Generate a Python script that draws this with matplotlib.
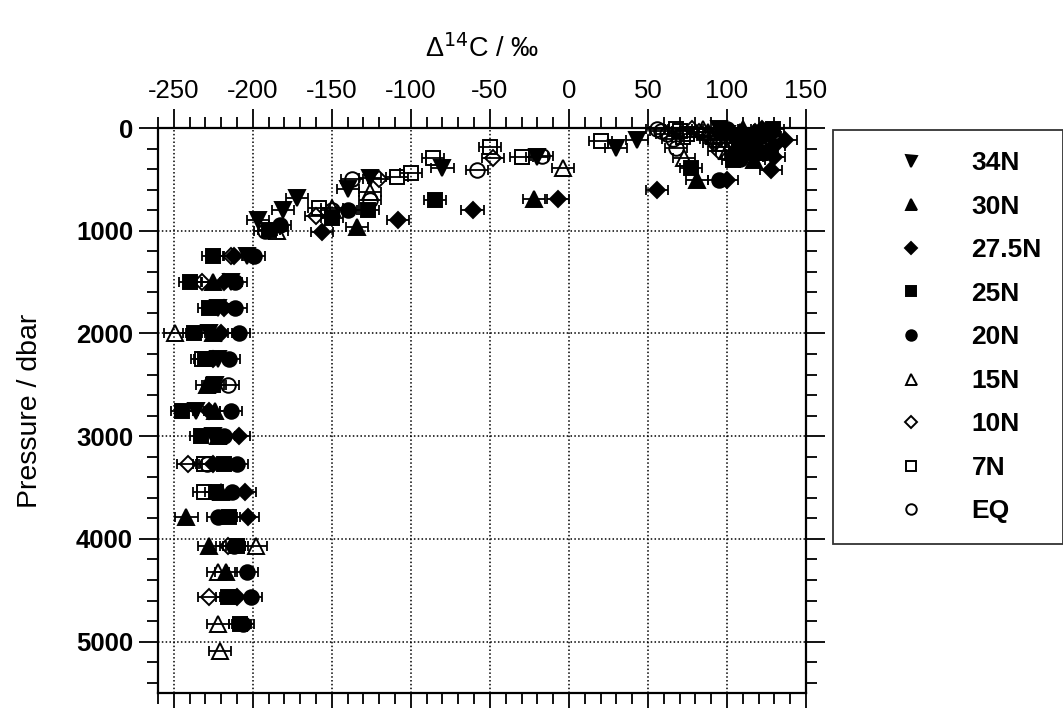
import numpy as np
import matplotlib
matplotlib.use("Agg")
import matplotlib.pyplot as plt
from matplotlib.ticker import MultipleLocator

plt.rcParams['font.family'] = ['Liberation Sans', 'DejaVu Sans']
plt.rcParams['axes.unicode_minus'] = False

# Delta 14C (permil) against pressure (dbar) for each station
p_34n = [10, 60, 117, 197, 280, 393, 490, 590, 685, 800, 898, 1250, 1500, 1750, 2000, 2250, 2500, 2750, 3000]
d_34n = [95, 100, 43, 30, -20, -80, -126, -140, -172, -181, -197, -204, -214, -222, -228, -222, -224, -236, -225]

p_30n = [10, 40, 75, 110, 150, 190, 230, 313, 508, 695, 965, 1500, 2000, 2500, 2750, 3000, 3540, 3790, 4070, 4320]
d_30n = [110, 108, 115, 112, 118, 119, 120, 117, 81, -22, -134, -225, -225, -229, -224, -222, -220, -242, -228, -217]

p_275n = [10, 40, 75, 120, 180, 230, 280, 410, 508, 605, 695, 800, 898, 1013, 1250, 1500, 1750, 2000, 2250, 2750,
          3000, 3275, 3540, 3790, 4570]
d_275n = [122, 118, 127, 137, 130, 125, 130, 128, 100, 56, -7, -61, -108, -156, -212, -218, -218, -220, -225, -228,
          -209, -225, -205, -203, -210]

p_25n = [10, 40, 75, 110, 150, 190, 230, 270, 313, 393, 703, 800, 880, 990, 1250, 1500, 1750, 2000, 2250, 2500,
         2750, 3000, 3275, 3540, 3790, 4070, 4570, 4830]
d_25n = [129, 126, 120, 118, 112, 110, 108, 106, 104, 77, -85, -127, -150, -190, -225, -240, -228, -237, -230, -225,
         -245, -233, -218, -223, -215, -210, -216, -208]

p_20n = [10, 40, 75, 110, 150, 190, 230, 300, 508, 800, 940, 1250, 1500, 1750, 2000, 2250, 2750, 3000, 3275, 3540,
         3790, 4070, 4320, 4570, 4830]
d_20n = [100, 98, 105, 107, 110, 112, 112, 108, 95, -140, -183, -199, -211, -211, -209, -215, -214, -218, -210, -213,
         -222, -212, -204, -201, -206]

p_15n = [10, 40, 75, 110, 150, 220, 295, 393, 620, 780, 1000, 2000, 4070, 4320, 4830, 5090]
d_15n = [85, 88, 92, 95, 98, 100, 73, -4, -126, -150, -185, -249, -198, -222, -222, -221]

p_10n = [10, 40, 75, 110, 150, 220, 290, 500, 860, 1250, 1500, 3275, 4070, 4570]
d_10n = [78, 82, 88, 90, 92, 95, -48, -120, -160, -214, -232, -241, -216, -228]

p_7n = [10, 30, 60, 90, 127, 183, 280, 295, 440, 475, 780, 2250, 3275, 3540]
d_7n = [68, 70, 75, 72, 20, -50, -30, -86, -100, -109, -158, -232, -231, -231]

p_eq = [10, 30, 60, 110, 195, 270, 410, 500, 700, 800, 1000, 2500, 3275]
d_eq = [56, 58, 62, 66, 68, -17, -58, -137, -126, -150, -192, -216, -229]

d14c_err = 7.0  # permil, one sigma

stations = ['34N', '30N', '27.5N', '25N', '20N', '15N', '10N', '7N', 'EQ']
pressures = [p_34n, p_30n, p_275n, p_25n, p_20n, p_15n, p_10n, p_7n, p_eq]
values = [d_34n, d_30n, d_275n, d_25n, d_20n, d_15n, d_10n, d_7n, d_eq]
markers = ['v', '^', 'D', 's', 'o', '^', 'D', 's', 'o']
filled = [True, True, True, True, True, False, False, False, False]
sizes = [11, 11, 8.5, 9.5, 10.5, 11, 8.5, 9.5, 10.5]

fig = plt.figure(figsize=(10.63, 7.08), dpi=100)
ax = fig.add_axes([158 / 1063, 1 - 693 / 708, (806 - 158) / 1063, (693 - 128) / 708])

handles = []
for name, p, d, m, f, s in zip(stations, pressures, values, markers, filled, sizes):
    ax.errorbar(d, p, xerr=d14c_err, fmt='none', ecolor='black', elinewidth=1.3,
                capsize=3.6, capthick=1.3, clip_on=False, zorder=3)
    h, = ax.plot(d, p, linestyle='none', marker=m, markersize=s,
                 markerfacecolor='black' if f else 'none', markeredgecolor='black',
                 markeredgewidth=1.4, clip_on=False, zorder=4, label=name)
    handles.append(h)

ax.set_xlim(-260, 150)
ax.set_ylim(5500, 0)
ax.xaxis.set_major_locator(MultipleLocator(50))
ax.xaxis.set_minor_locator(MultipleLocator(10))
ax.yaxis.set_major_locator(MultipleLocator(1000))
ax.yaxis.set_minor_locator(MultipleLocator(200))

ax.tick_params(which='both', direction='out', top=True, bottom=True, left=True, right=True,
               labeltop=True, labelbottom=False, width=1.3)
ax.tick_params(which='major', length=14)
ax.tick_params(which='minor', length=8)
ax.tick_params(axis='x', labelsize=18.5, pad=4)
ax.tick_params(axis='y', labelsize=18.5, pad=4)
for lab in ax.get_yticklabels():
    lab.set_fontweight('bold')
for sp in ax.spines.values():
    sp.set_linewidth(1.6)

ax.grid(True, which='major', color='black', linestyle=(0, (1, 1.5)), linewidth=1.1)

ax.xaxis.set_label_position('top')
ax.set_xlabel('Δ$^{14}$C / ‰', fontsize=19.5, labelpad=16)
ax.set_ylabel('Pressure / dbar', fontsize=20.5, labelpad=24)

leg = fig.legend(handles=handles, loc='upper left', bbox_to_anchor=(833 / 1063, 1 - 130 / 708),
                 frameon=True, fancybox=False, edgecolor='black', markerscale=0.72,
                 prop={'size': 19, 'weight': 'bold'}, borderpad=0.8, handlelength=4.3,
                 handletextpad=0.15, labelspacing=0.74, borderaxespad=0)
leg.get_frame().set_linewidth(1.3)

fig.savefig('out.png', dpi=100)
